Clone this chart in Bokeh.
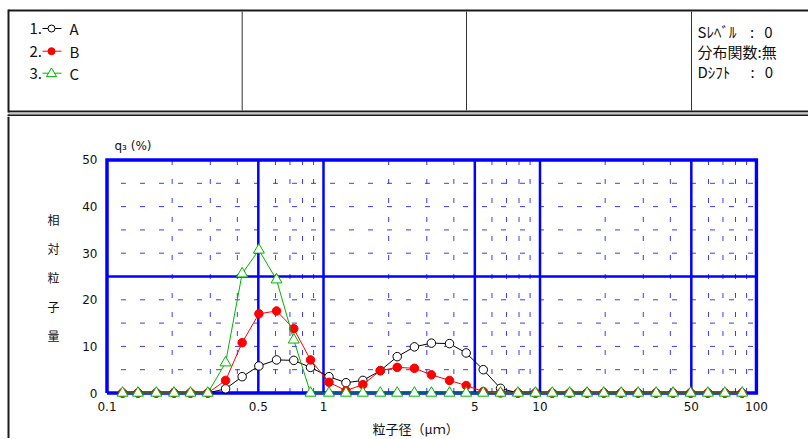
from bokeh.plotting import figure
from bokeh.models import Range1d, FixedTicker
from bokeh.layouts import column, row
from bokeh.embed import file_html
from bokeh.resources import INLINE
from bokeh.core.properties import value

# ---------------- data ----------------
sizes = [0.118, 0.139, 0.169, 0.204, 0.243, 0.292, 0.353, 0.421, 0.503, 0.607, 0.729, 0.871,
         1.06, 1.27, 1.52, 1.83, 2.19, 2.63, 3.15, 3.82, 4.56, 5.47, 6.57, 7.90, 9.53,
         11.4, 13.7, 16.5, 19.7, 23.7, 28.4, 34.4, 41.2, 49.6, 59.6, 71.4, 85.9]
series_a = [0, 0, 0, 0, 0, 0, 0.9, 3.5, 5.8, 7.1, 7.0, 5.5,
            3.5, 2.2, 2.7, 4.8, 7.8, 9.9, 10.7, 10.6, 8.6, 5.0, 1.0, 0, 0,
            0, 0, 0, 0, 0, 0, 0, 0, 0, 0, 0, 0]
series_b = [0, 0, 0, 0, 0, 0, 2.7, 10.8, 17.0, 17.6, 13.8, 7.1,
            2.3, 0.5, 1.8, 4.8, 5.5, 5.3, 3.9, 2.7, 1.6, 0.3, 0, 0, 0,
            0, 0, 0, 0, 0, 0, 0, 0, 0, 0, 0, 0]
series_c = [0, 0, 0, 0, 0, 0, 6.5, 25.6, 30.7, 24.3, 11.4, 0,
            0, 0, 0, 0, 0, 0, 0, 0, 0, 0, 0, 0, 0,
            0, 0, 0, 0, 0, 0, 0, 0, 0, 0, 0, 0]
series_names = ["A", "B", "C"]
legend_nums = ["1.", "2.", "3."]

x_ticks = [0.1, 0.5, 1, 5, 10, 50, 100]
x_tick_labels = ["0.1", "0.5", "1", "5", "10", "50", "100"]
y_ticks = [0, 10, 20, 30, 40, 50]
x_major_grid = [0.5, 1, 5, 10, 50]
x_minor_grid = [0.2, 0.3, 0.4, 0.6, 0.7, 0.8, 0.9, 2, 3, 4, 6, 7, 8, 9,
                20, 30, 40, 60, 70, 80, 90]
y_major_grid = [25]
y_minor_grid = [5, 10, 15, 20, 30, 35, 40, 45]
x_min, x_max, y_min, y_max = 0.1, 100, 0, 50

NB = "\u00a0"
info_texts = ["Sﾚﾍﾞﾙ" + NB * 4 + ":" + NB * 3 + "0",
              "分布関数:無",
              "Dｼﾌﾄ" + NB * 6 + ":" + NB * 3 + "0"]
y_title_chars = ["相", "対", "粒", "子", "量"]
x_title = "粒子径（μｍ）"
q_title = "q₃ (%)"

colors = ["#000000", "#ff0000", "#00b400"]
JP = "Noto Sans CJK JP"
EDGE = "#1a1a1a"
TXT = "#111111"


def blank(w, h):
    return figure(width=w, height=h, x_range=Range1d(0, w), y_range=Range1d(h, 0),
                  min_border=0, toolbar_location=None, output_backend="svg",
                  x_axis_type=None, y_axis_type=None, outline_line_color=None)


# ---------------- header (page y 0..116) ----------------
hdr = blank(808, 116)
hdr.segment(x0=[8, 8, 8, 8], x1=[808, 808, 808, 808], y0=[10, 111, 113, 115], y1=[10, 111, 113, 115],
            line_color=[EDGE, EDGE, "#c4c4c4", EDGE], line_width=2)
hdr.segment(x0=[8, 8], x1=[8, 8], y0=[9, 114], y1=[112, 116], line_color=EDGE, line_width=2)
hdr.segment(x0=[241.7, 466, 691], x1=[241.7, 466, 691], y0=[11, 11, 11], y1=[110, 110, 110],
            line_color="#333333", line_width=1)

leg_y = [28, 50.7, 72.7]
hdr.text(x=[29] * 3, y=leg_y, text=legend_nums, text_font=value(JP), text_font_size="15px",
         text_baseline="middle", text_align="left", text_color=TXT)
hdr.text(x=[69] * 3, y=leg_y, text=series_names, text_font=value(JP), text_font_size="15px",
         text_baseline="middle", text_align="left", text_color=TXT)
hdr.segment(x0=[42] * 3, x1=[61] * 3, y0=leg_y, y1=leg_y, line_color=colors, line_width=1)
hdr.scatter(x=[51], y=[leg_y[0]], marker="circle", size=7, fill_color="white", line_color=colors[0])
hdr.scatter(x=[51], y=[leg_y[1]], marker="circle", size=7, fill_color=colors[1], line_color=colors[1])
hdr.scatter(x=[51], y=[leg_y[2] + 0.5], marker="triangle", size=10, fill_color="white", line_color=colors[2])

hdr.text(x=[697] * 3, y=[31, 51, 71], text=info_texts, text_font=value(JP), text_font_size="15px",
         text_baseline="middle", text_align="left", text_color=TXT)

# ---------------- left strip with y title (page x 0..66, y 116..438) ----------------
left = blank(66, 322)
left.segment(x0=[8], x1=[8], y0=[0], y1=[322], line_color=EDGE, line_width=2)
left.text(x=[53] * 5, y=[103, 132, 161, 190, 219], text=y_title_chars, text_font=value(JP),
          text_font_size="12px", text_align="center", text_baseline="middle", text_color=TXT)

# ---------------- chart (page x 66..808, y 116..418) ----------------
p = figure(width=742, height=302, x_axis_type="log",
           x_range=Range1d(0.09738, 102.15), y_range=Range1d(-1.18, 50.536),
           min_border_left=38, min_border_right=50, min_border_top=41, min_border_bottom=20,
           toolbar_location=None, output_backend="svg", outline_line_color=None,
           title=q_title)
p.grid.visible = False
p.title.align = "left"
p.title.offset = 10
p.title.standoff = 9
p.title.text_font = "DejaVu Sans"
p.title.text_font_size = "12px"
p.title.text_font_style = "normal"
p.title.text_color = TXT

for ax in (p.xaxis[0], p.yaxis[0]):
    ax.axis_line_color = None
    ax.major_tick_line_color = None
    ax.minor_tick_line_color = None
    ax.major_tick_out = 0
    ax.major_tick_in = 0
    ax.minor_tick_out = 0
    ax.minor_tick_in = 0
    ax.major_label_text_font = "DejaVu Sans"
    ax.major_label_text_font_size = "12px"
    ax.major_label_text_color = TXT

p.xaxis.ticker = FixedTicker(ticks=x_ticks)
p.xaxis.major_label_overrides = {t: s for t, s in zip(x_ticks, x_tick_labels)}
p.xaxis.major_label_standoff = 3
p.yaxis.ticker = FixedTicker(ticks=y_ticks)
p.yaxis.major_label_standoff = 7

dash_col = "#3a3aff"
p.segment(x0=x_minor_grid, x1=x_minor_grid, y0=[y_min] * len(x_minor_grid), y1=[y_max] * len(x_minor_grid),
          line_color=dash_col, line_width=1, line_dash="5 14")
p.segment(x0=[x_min] * len(y_minor_grid), x1=[x_max] * len(y_minor_grid), y0=y_minor_grid, y1=y_minor_grid,
          line_color=dash_col, line_width=1, line_dash="5 14", line_dash_offset=-14)
p.segment(x0=x_major_grid, x1=x_major_grid, y0=[y_min] * len(x_major_grid), y1=[y_max] * len(x_major_grid),
          line_color="#0000ff", line_width=2.5)
p.segment(x0=[x_min] * len(y_major_grid), x1=[x_max] * len(y_major_grid), y0=y_major_grid, y1=y_major_grid,
          line_color="#0000ff", line_width=2.5)
p.line(x=[x_min, x_max, x_max, x_min, x_min], y=[y_min, y_min, y_max, y_max, y_min],
       line_color="#0000ff", line_width=3.5, line_join="miter")

p.line(x=sizes, y=series_a, line_color=colors[0], line_width=1)
p.scatter(x=sizes, y=series_a, marker="circle", size=8.5, fill_color="white", line_color=colors[0], line_width=1)
p.line(x=sizes, y=series_b, line_color=colors[1], line_width=1)
p.scatter(x=sizes, y=series_b, marker="circle", size=8.5, fill_color=colors[1], line_color=colors[1])
p.line(x=sizes, y=series_c, line_color=colors[2], line_width=1)
p.scatter(x=sizes, y=series_c, marker="triangle", size=11, fill_color="white", line_color=colors[2], line_width=1)

# ---------------- x title strip (page x 66..808, y 418..438) ----------------
bottom = blank(742, 20)
bottom.text(x=[353], y=[9.5], text=[x_title], text_font=value(JP), text_font_size="13px",
            text_align="center", text_baseline="middle", text_color=TXT)

layout = column(hdr, row(left, column(p, bottom)))
open("out.html", "w").write(file_html(layout, INLINE))
